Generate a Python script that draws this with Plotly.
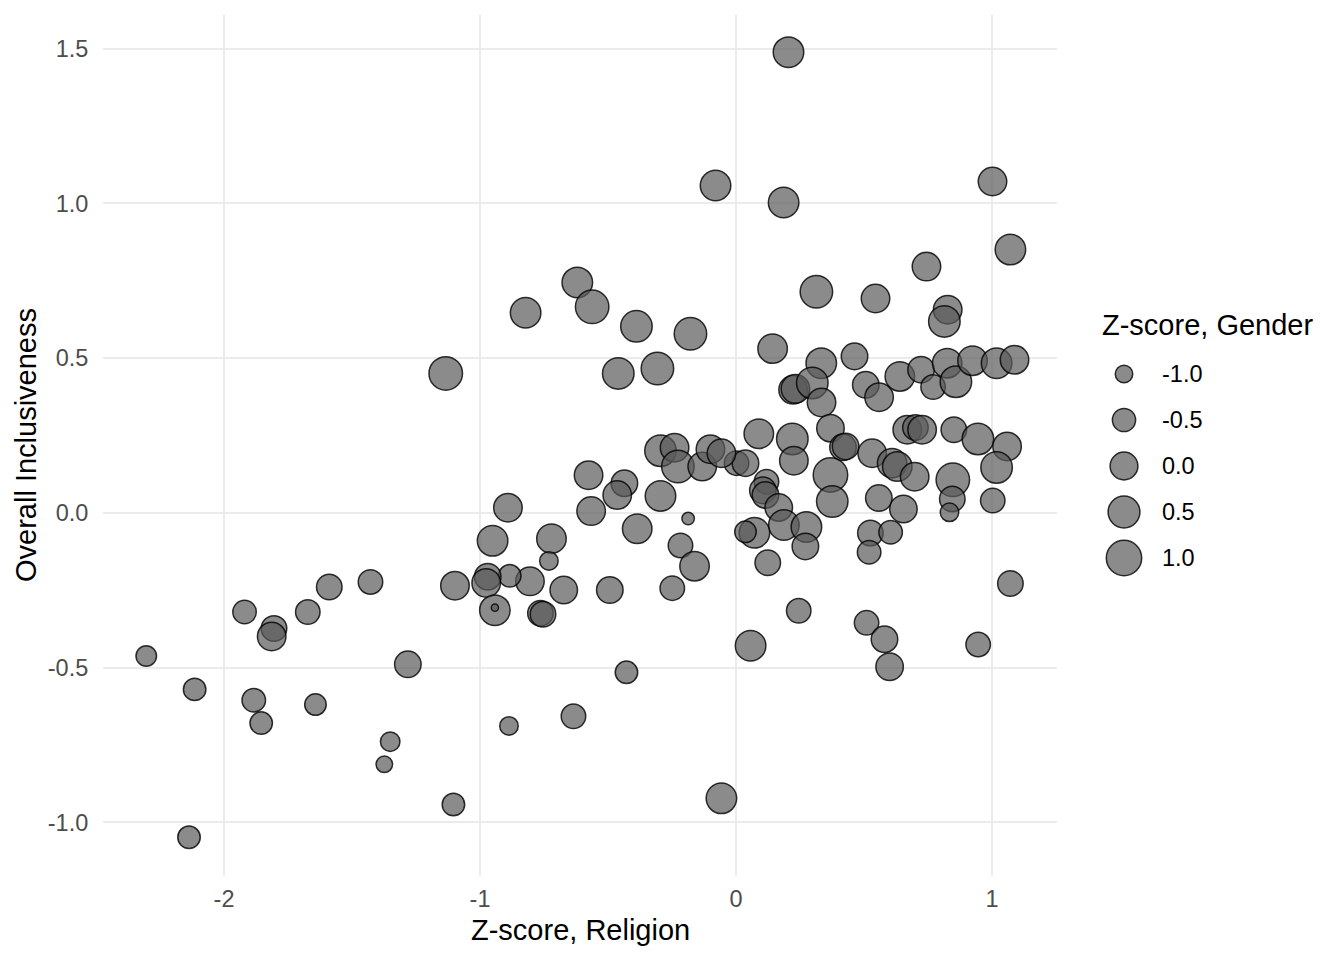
import numpy as np
import plotly.graph_objects as go

# Z-score, Religion (x), Overall Inclusiveness (y), Z-score, Gender (size)
religion = [
    0.205, -0.080, 0.186, 1.002, 1.072, 0.744, 0.314, 0.545, 0.827, 0.814,
    -0.620, -0.562, -0.822, -0.389, -0.178, -1.134, -0.460, -0.307, 0.143, 0.333,
    0.463, 0.223, 0.232, 0.298, 0.334, 0.507, 0.559, 0.640, 0.723, 0.770,
    0.825, 0.859, 0.924, 1.018, 1.088, 0.089, 0.220, 0.226, 0.369, 0.418,
    0.428, 0.532, 0.610, 0.630, 0.698, 0.669, 0.701, 0.727, 0.851, 0.945,
    1.059, 1.018, 1.003, 0.847, 0.845, 0.834, 0.369, 0.376, 0.558, 0.654,
    0.119, 0.105, 0.115, 0.167, 0.187, 0.072, 0.037, 0.275, 0.271, 0.525,
    0.604, 0.520, 0.124, 0.002, 0.037, -0.295, -0.240, -0.227, -0.132, -0.100,
    -0.057, -0.576, -0.436, -0.464, -0.295, -0.566, -0.891, -0.951, -0.721, -0.386,
    -0.187, -0.217, -0.162, -0.249, -0.493, -0.673, -0.731, -0.805, -0.884, -0.970,
    -0.976, -1.098, -0.942, -0.942, -0.764, -0.754, -2.304, -2.115, -1.920, -1.805,
    -1.814, -1.673, -1.589, -1.428, -1.282, -1.884, -1.855, -1.643, -1.351, -1.374,
    -1.104, -2.137, -0.887, -0.428, -0.635, -0.057, 0.057, 0.245, 0.510, 0.580,
    0.600, 0.946, 1.072,
]
inclusiveness = [
    1.489, 1.058, 1.003, 1.071, 0.851, 0.796, 0.715, 0.693, 0.657, 0.619,
    0.745, 0.666, 0.647, 0.603, 0.579, 0.451, 0.451, 0.467, 0.531, 0.484,
    0.506, 0.398, 0.401, 0.420, 0.357, 0.414, 0.374, 0.441, 0.463, 0.407,
    0.484, 0.424, 0.492, 0.484, 0.495, 0.256, 0.239, 0.169, 0.274, 0.212,
    0.215, 0.193, 0.161, 0.150, 0.117, 0.269, 0.276, 0.269, 0.269, 0.239,
    0.215, 0.147, 0.040, 0.107, 0.045, 0.002, 0.123, 0.037, 0.048, 0.013,
    0.101, 0.073, 0.058, 0.018, -0.039, -0.064, -0.061, -0.045, -0.108, -0.065,
    -0.062, -0.127, -0.161, 0.161, 0.161, 0.201, 0.211, 0.150, 0.150, 0.206,
    0.193, 0.122, 0.096, 0.058, 0.055, 0.006, 0.017, -0.090, -0.083, -0.051,
    -0.018, -0.105, -0.172, -0.243, -0.249, -0.249, -0.155, -0.221, -0.203, -0.206,
    -0.226, -0.235, -0.314, -0.306, -0.324, -0.327, -0.462, -0.570, -0.320, -0.373,
    -0.399, -0.320, -0.239, -0.223, -0.489, -0.605, -0.679, -0.619, -0.739, -0.812,
    -0.942, -1.048, -0.688, -0.515, -0.657, -0.922, -0.429, -0.316, -0.355, -0.408,
    -0.497, -0.425, -0.228,
]
gender = [
    0.33, 0.33, 0.33, 0.08, 0.33, 0.08, 0.59, 0.08, 0.08, 0.46,
    0.33, 0.73, 0.33, 0.46, 0.59, 0.73, 0.46, 0.59, 0.20, 0.33,
    -0.15, 0.08, 0.08, 0.46, 0.08, -0.15, 0.08, 0.20, -0.15, -0.37,
    0.20, 0.46, 0.20, 0.33, 0.08, 0.20, 0.46, 0.08, -0.04, -0.15,
    -0.15, 0.08, 0.20, 0.20, 0.08, 0.08, -0.26, 0.08, -0.26, 0.46,
    0.08, 0.46, -0.37, 0.73, -0.26, -0.92, 0.87, 0.46, -0.15, -0.04,
    -0.37, -0.15, -0.15, -0.04, 0.33, 0.33, -0.66, 0.33, -0.15, -0.26,
    -0.47, -0.47, -0.26, -0.37, -0.15, 0.46, 0.08, 0.59, 0.08, 0.08,
    0.08, 0.08, -0.15, 0.08, 0.33, 0.08, 0.08, 0.33, 0.20, 0.20,
    -1.33, -0.37, 0.20, -0.37, -0.15, -0.04, -0.92, 0.08, -0.57, -0.15,
    0.08, 0.08, 0.33, -1.57, -0.26, -0.26, -0.75, -0.57, -0.47, -0.26,
    0.08, -0.37, -0.26, -0.37, -0.15, -0.47, -0.57, -0.66, -0.84, -1.07,
    -0.57, -0.57, -0.92, -0.57, -0.37, 0.33, 0.33, -0.37, -0.37, -0.15,
    -0.04, -0.37, -0.26,
]

x_ticks = [-2, -1, 0, 1]
x_labels = ["-2", "-1", "0", "1"]
y_ticks = [-1.0, -0.5, 0.0, 0.5, 1.0, 1.5]
y_labels = ["-1.0", "-0.5", "0.0", "0.5", "1.0", "1.5"]
legend_vals = [-1.0, -0.5, 0.0, 0.5, 1.0]
legend_labels = ["-1.0", "-0.5", "0.0", "0.5", "1.0"]

FONT = "Liberation Sans, Arial, Helvetica, sans-serif"
FILL = "rgba(90,90,90,0.7)"
EDGE = "rgba(0,0,0,0.8)"
LW = 1.5

# the page body adds an 8px margin, so screen pixels are figure pixels + 8
OFF = 8
W, H = 1344, 960
L, R, T, B = 103 - OFF, 10, 15 - OFF, 960 - (876 - OFF)
PW, PH = W - L - R, H - T - B


def px_x(p):
    return (p - OFF - L) / PW


def px_y(p):
    return (H - B - (p - OFF)) / PH


def size_scale(v):
    # area scale like ggplot's scale_size: diameter^2 linear in value
    return np.sqrt(860 + 500 * np.asarray(v, dtype=float)) - LW


fig = go.Figure()

fig.add_trace(go.Scatter(
    x=religion, y=inclusiveness, mode="markers",
    marker=dict(size=size_scale(gender), color=FILL, opacity=1,
                line=dict(color=EDGE, width=LW)),
    showlegend=False, hoverinfo="skip",
))

# size legend drawn on its own small axes
fig.add_trace(go.Scatter(
    x=[0] * len(legend_vals), y=legend_vals, mode="markers",
    marker=dict(size=size_scale(legend_vals), color=FILL, opacity=1,
                line=dict(color=EDGE, width=LW)),
    xaxis="x2", yaxis="y2", showlegend=False, hoverinfo="skip",
))

axis_common = dict(
    showgrid=True, gridcolor="#ebebeb", gridwidth=2, zeroline=False,
    showline=False, ticks="outside", tickcolor="rgba(0,0,0,0)",
    tickfont=dict(family=FONT, size=23.5, color="#4d4d4d"),
)

annotations = [
    dict(text="Z-score, Religion", xref="paper", yref="paper",
         x=px_x((103 + 1057) / 2), y=px_y(930), xanchor="center", yanchor="middle",
         showarrow=False, font=dict(family=FONT, size=29, color="black")),
    dict(text="Overall Inclusiveness", xref="paper", yref="paper",
         x=px_x(26), y=px_y(445), xanchor="center", yanchor="middle",
         textangle=-90, showarrow=False,
         font=dict(family=FONT, size=29, color="black")),
    dict(text="Z-score, Gender", xref="paper", yref="paper",
         x=px_x(1100), y=px_y(325), xanchor="left", yanchor="middle",
         showarrow=False, font=dict(family=FONT, size=29, color="black")),
]
for v, lab in zip(legend_vals, legend_labels):
    annotations.append(dict(
        text=lab, xref="paper", yref="y2", x=px_x(1160), y=v,
        xanchor="left", yanchor="middle", showarrow=False,
        font=dict(family=FONT, size=23.5, color="black")))

fig.update_layout(
    width=W, height=H,
    margin=dict(l=L, r=R, t=T, b=B),
    paper_bgcolor="white", plot_bgcolor="white",
    font=dict(family=FONT),
    xaxis=dict(domain=[0, px_x(1057)], range=[-2.473, 1.254],
               tickvals=x_ticks, ticktext=x_labels, ticklen=2, **axis_common),
    yaxis=dict(domain=[0, 1], range=[-1.173, 1.609],
               tickvals=y_ticks, ticktext=y_labels, ticklen=9, **axis_common),
    xaxis2=dict(domain=[px_x(1094), px_x(1154)], range=[-1, 1],
                visible=False, anchor="y2", fixedrange=True),
    yaxis2=dict(domain=[px_y(604), px_y(328)], range=[1.5, -1.5],
                visible=False, anchor="x2", fixedrange=True),
    annotations=annotations,
    showlegend=False,
)

fig.write_html("out.html")
